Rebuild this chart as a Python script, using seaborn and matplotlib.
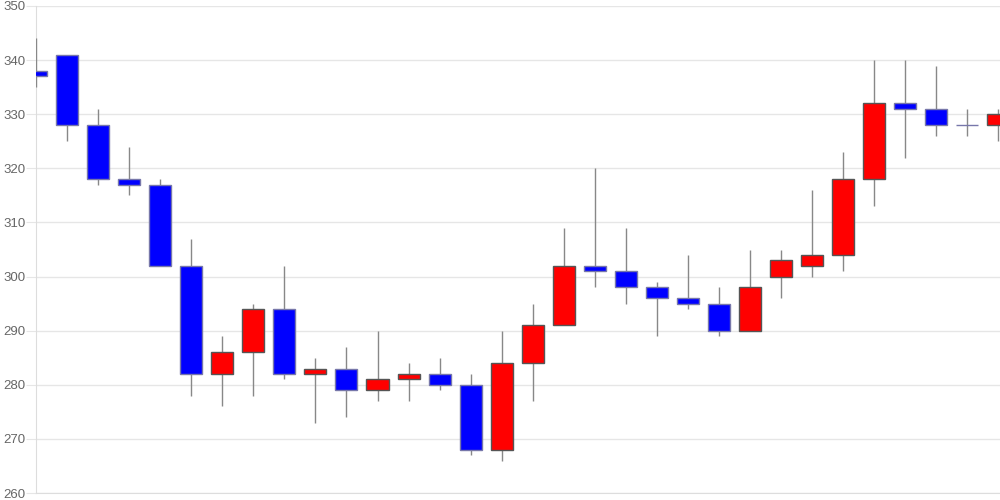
import numpy as np
import pandas as pd
import seaborn as sns
import matplotlib
matplotlib.use('Agg')
import matplotlib.pyplot as plt

# OHLC values
opens  = [338, 341, 328, 318, 317, 302, 282, 286, 294, 282, 283, 279, 281, 282, 280, 268,
          284, 291, 302, 301, 298, 296, 295, 290, 300, 302, 304, 318, 332, 331, 328, 328]
highs  = [344, 341, 331, 324, 318, 307, 289, 295, 302, 285, 287, 290, 284, 285, 282, 290,
          295, 309, 320, 309, 299, 304, 298, 305, 305, 316, 323, 340, 340, 339, 331, 331]
lows   = [335, 325, 317, 315, 302, 278, 276, 278, 281, 273, 274, 277, 277, 279, 267, 266,
          277, 291, 298, 295, 289, 294, 289, 290, 296, 300, 301, 313, 322, 326, 326, 325]
closes = [337, 328, 318, 317, 302, 282, 286, 294, 282, 283, 279, 281, 282, 280, 268, 284,
          291, 302, 301, 298, 296, 295, 290, 298, 303, 304, 318, 332, 331, 328, 328, 330]
y_ticks = [260, 270, 280, 290, 300, 310, 320, 330, 340, 350]

df = pd.DataFrame({'open': opens, 'high': highs, 'low': lows, 'close': closes})
df['x'] = np.arange(len(df))
df['bottom'] = df[['open', 'close']].min(axis=1)
df['height'] = (df['close'] - df['open']).abs()
df['up'] = df['close'] > df['open']

sns.set_style('white')
plt.rcParams['font.family'] = ['Liberation Sans', 'DejaVu Sans']
fig = plt.figure(figsize=(10, 5), dpi=100)
ax = fig.add_axes([0.036, 0.014, 0.964, 0.974])

# wicks (drawn above the left spine so the first one stays visible)
ax.vlines(df['x'], df['low'], df['high'], color='#888888', linewidth=1, zorder=4)

# bodies
colors = np.where(df['up'], '#ff0000', np.where(df['height'] == 0, '#555555', '#0000ff'))
edges = np.where(df['up'], '#555555', '#7777aa')
ax.bar(df['x'], df['height'].replace(0, 0.08), bottom=df['bottom'], width=0.71,
       color=colors, edgecolor=edges, linewidth=1, zorder=5)

ax.set_xlim(0, 31.05)
ax.set_ylim(260, 350)
ax.set_yticks(y_ticks)
ax.set_xticks([])
ax.grid(axis='y', color='#e6e6e6', linewidth=1)
ax.set_axisbelow(True)
for s in ['top', 'right']:
    ax.spines[s].set_visible(False)
ax.spines['left'].set_color('#dddddd')
ax.spines['bottom'].set_color('#dddddd')
ax.spines['left'].set_zorder(1)
ax.tick_params(axis='y', length=7, color='#e6e6e6', labelsize=9.5, labelcolor='#666666', pad=0.5,
               left=True)

fig.savefig('out.png', dpi=100)
